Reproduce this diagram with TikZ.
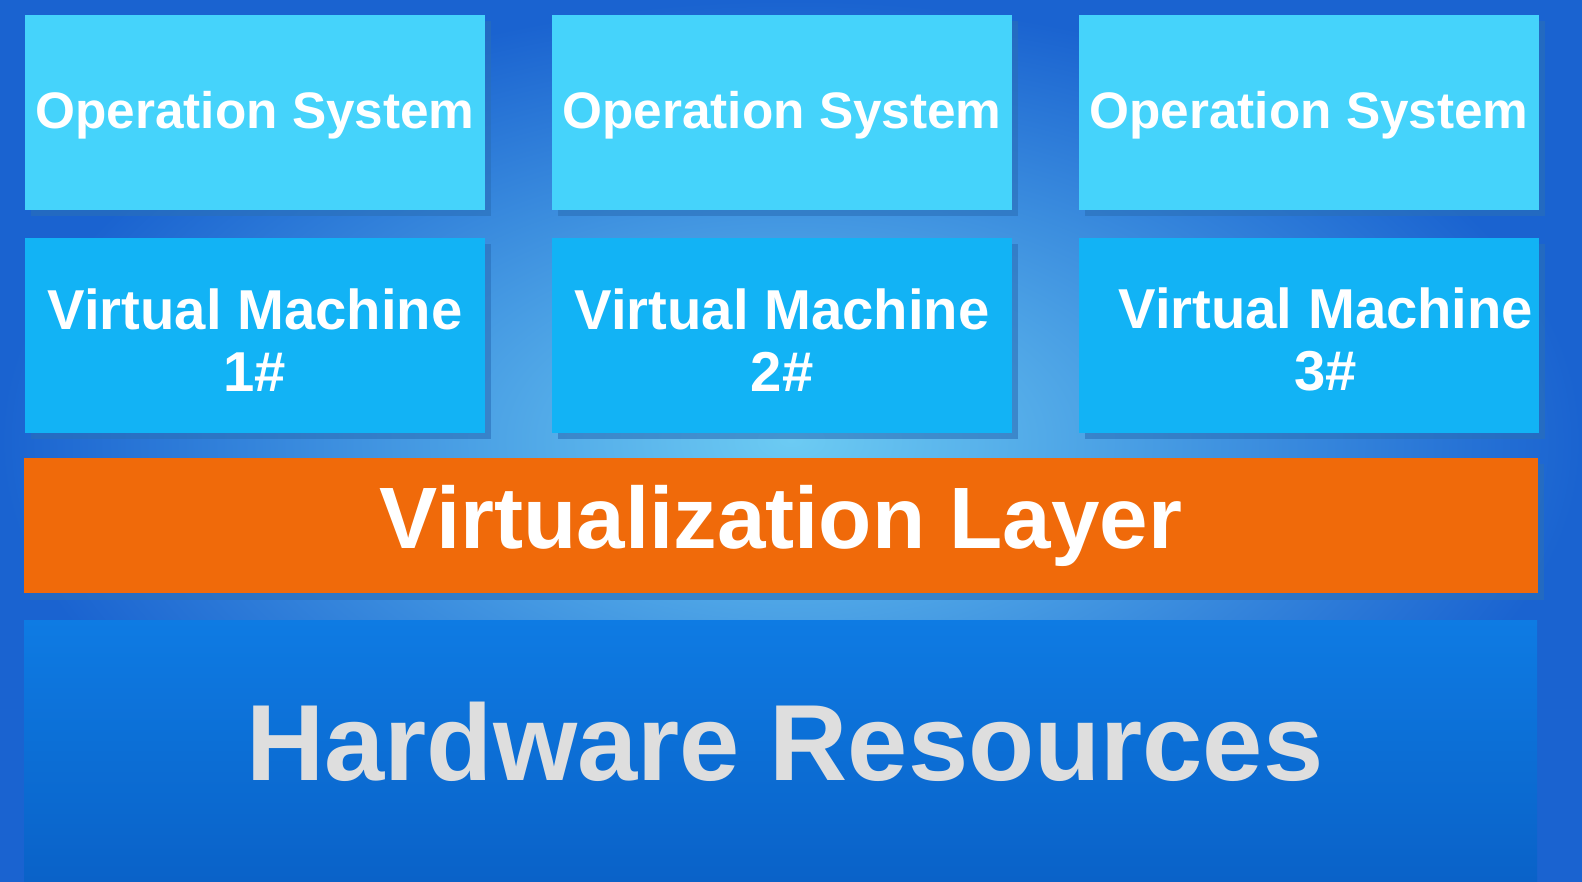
\documentclass[tikz,border=0pt]{standalone}
\usepackage{fontspec}
\setmainfont{Liberation Sans}
\definecolor{osc}{HTML}{45D3FB}
\definecolor{vmc}{HTML}{12B3F5}
\definecolor{orc}{HTML}{F06A0A}
\definecolor{hwc}{HTML}{0E7BE3}
\definecolor{hwd}{HTML}{0A62C8}
\definecolor{bgin}{HTML}{6CCBF3}
\definecolor{bgout}{HTML}{1A63D0}
\definecolor{shd}{HTML}{2A6FB8}
\definecolor{hwt}{HTML}{DEDEDE}
\begin{document}
\begin{tikzpicture}[x=0.025cm,y=-0.025cm,
  osbox/.style={fill=osc,draw=none},
  vmbox/.style={fill=vmc,draw=none},
  lbl/.style={text=white,font=\bfseries,align=center},
  shadowbox/.style={fill=shd,opacity=0.6,draw=none}]
\useasboundingbox (0,0) rectangle (1582,881);
\shade[inner color=bgin,outer color=bgout] (0,0) rectangle (1582,881);
% shadows
\foreach \x in {25,552,1079}{
  \fill[shadowbox] (\x+6,21) rectangle (\x+466,216);
  \fill[shadowbox] (\x+6,244) rectangle (\x+466,439);
}
\fill[shadowbox] (30,464) rectangle (1544,600);
% OS row
\fill[osbox] (25,15) rectangle (485,210) node[pos=.5,yshift=-2pt,lbl,font=\bfseries\fontsize{36.5}{40}\selectfont] (os1) {Operation System};
\fill[osbox] (552,15) rectangle (1012,210) node[pos=.5,yshift=-2pt,lbl,font=\bfseries\fontsize{36.5}{40}\selectfont] (os2) {Operation System};
\fill[osbox] (1079,15) rectangle (1539,210) node[pos=.5,yshift=-2pt,lbl,font=\bfseries\fontsize{36.5}{40}\selectfont] (os3) {Operation System};
% VM row
\fill[vmbox] (25,238) rectangle (485,433) node[pos=.5,yshift=-3pt,lbl,font=\bfseries\fontsize{40}{44}\selectfont] (vm1) {Virtual Machine\\1\#};
\fill[vmbox] (552,238) rectangle (1012,433) node[pos=.5,yshift=-3pt,lbl,font=\bfseries\fontsize{40}{44}\selectfont] (vm2) {Virtual Machine\\2\#};
\fill[vmbox] (1079,238) rectangle (1539,433) node[pos=.5,yshift=-3pt,xshift=12,lbl,font=\bfseries\fontsize{40}{44}\selectfont] (vm3) {Virtual Machine\\3\#};
% Virtualization layer
\fill[orc] (24,458) rectangle (1538,593) node[pos=.5,yshift=0pt,lbl,font=\bfseries\fontsize{62}{66}\selectfont] (vl) {Virtualization Layer};
% Hardware
\shade[top color=hwc,bottom color=hwd] (24,620) rectangle (1537,881);
\node[text=hwt,font=\bfseries\fontsize{77}{80}\selectfont] (hw) at (785,742) {Hardware Resources};
\end{tikzpicture}
\end{document}
